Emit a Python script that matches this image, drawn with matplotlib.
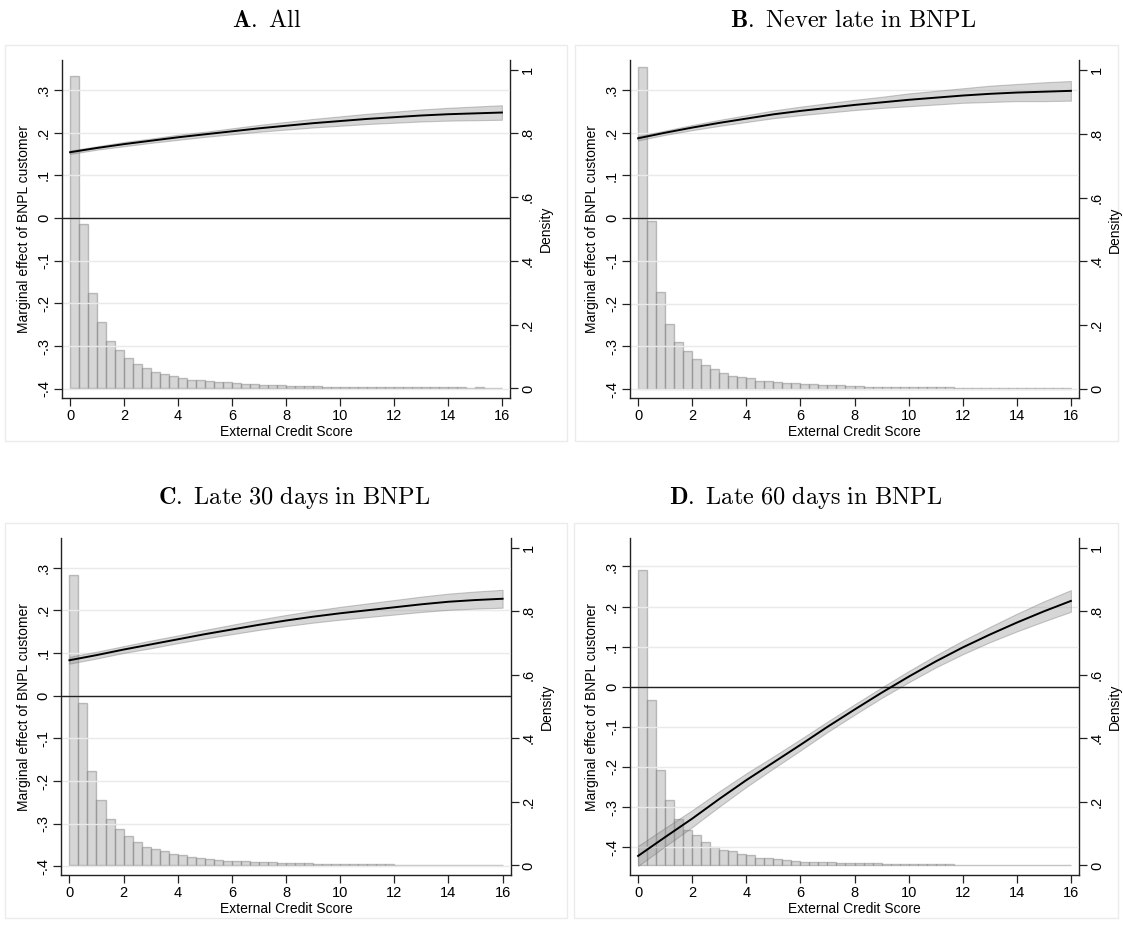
import numpy as np
import matplotlib
matplotlib.use("Agg")
import matplotlib.pyplot as plt
from matplotlib.patches import Rectangle

plt.rcParams['font.family'] = ['Liberation Sans', 'DejaVu Sans']
plt.rcParams['mathtext.fontset'] = 'cm'

# Histogram of the external credit score (density, bins of 1/3 from 0 to 16)
bin_edges = np.linspace(0, 16, 49)

hist_a = [0.980, 0.516, 0.300, 0.207, 0.150, 0.120, 0.095, 0.076, 0.063, 0.051,
          0.045, 0.038, 0.034, 0.028, 0.026, 0.022, 0.020, 0.019, 0.016, 0.014,
          0.013, 0.012, 0.011, 0.010, 0.009, 0.008, 0.008, 0.007, 0.006, 0.006,
          0.005, 0.005, 0.005, 0.004, 0.004, 0.004, 0.004, 0.003, 0.003, 0.003,
          0.003, 0.003, 0.003, 0.003, 0.002, 0.003, 0.002, 0.002]
hist_b = [1.010, 0.525, 0.302, 0.204, 0.147, 0.117, 0.093, 0.073, 0.061, 0.049,
          0.041, 0.036, 0.033, 0.025, 0.025, 0.020, 0.017, 0.019, 0.015, 0.014,
          0.012, 0.011, 0.011, 0.008, 0.008, 0.007, 0.007, 0.006, 0.005, 0.005,
          0.005, 0.004, 0.004, 0.004, 0.004, 0.003, 0.003, 0.003, 0.003, 0.003,
          0.003, 0.003, 0.002, 0.002, 0.002, 0.002, 0.002, 0.002]
hist_c = [0.914, 0.510, 0.297, 0.207, 0.145, 0.116, 0.094, 0.073, 0.059, 0.051,
          0.045, 0.036, 0.032, 0.027, 0.023, 0.021, 0.018, 0.015, 0.014, 0.013,
          0.012, 0.011, 0.010, 0.009, 0.008, 0.008, 0.007, 0.006, 0.006, 0.005,
          0.005, 0.005, 0.005, 0.004, 0.004, 0.004, 0.003, 0.003, 0.003, 0.003,
          0.003, 0.003, 0.003, 0.002, 0.002, 0.002, 0.003, 0.002]
hist_d = [0.930, 0.519, 0.300, 0.205, 0.145, 0.113, 0.095, 0.074, 0.059, 0.049,
          0.045, 0.036, 0.032, 0.025, 0.022, 0.020, 0.016, 0.015, 0.011, 0.012,
          0.011, 0.010, 0.009, 0.009, 0.008, 0.007, 0.007, 0.006, 0.005, 0.005,
          0.005, 0.005, 0.004, 0.004, 0.004, 0.003, 0.003, 0.003, 0.003, 0.003,
          0.003, 0.003, 0.002, 0.002, 0.002, 0.002, 0.002, 0.002]

# Marginal effect of BNPL customer and half-width of the 95% CI
score = np.arange(0, 17)

effect_a = [0.154, 0.164, 0.173, 0.181, 0.189, 0.196, 0.203, 0.210, 0.216,
            0.222, 0.227, 0.232, 0.236, 0.240, 0.243, 0.245, 0.247]
ci_a = [0.004, 0.004, 0.005, 0.005, 0.006, 0.006, 0.007, 0.008, 0.009,
        0.010, 0.011, 0.012, 0.013, 0.014, 0.015, 0.016, 0.017]

effect_b = [0.187, 0.200, 0.212, 0.223, 0.233, 0.243, 0.251, 0.258, 0.265,
            0.271, 0.277, 0.282, 0.287, 0.291, 0.294, 0.296, 0.298]
ci_b = [0.005, 0.005, 0.006, 0.007, 0.008, 0.009, 0.010, 0.011, 0.012,
        0.013, 0.015, 0.016, 0.017, 0.019, 0.020, 0.022, 0.023]

effect_c = [0.083, 0.095, 0.108, 0.120, 0.132, 0.144, 0.155, 0.166, 0.176,
            0.185, 0.193, 0.200, 0.207, 0.214, 0.220, 0.224, 0.227]
ci_c = [0.008, 0.008, 0.008, 0.009, 0.009, 0.010, 0.011, 0.012, 0.013,
        0.014, 0.015, 0.016, 0.017, 0.018, 0.019, 0.020, 0.021]

effect_d = [-0.422, -0.375, -0.329, -0.280, -0.233, -0.189, -0.145, -0.100, -0.057,
            -0.015, 0.025, 0.063, 0.098, 0.130, 0.160, 0.188, 0.214]
ci_d = [0.025, 0.023, 0.021, 0.019, 0.017, 0.015, 0.014, 0.013, 0.013,
        0.013, 0.014, 0.015, 0.017, 0.019, 0.022, 0.025, 0.027]

panel_letters = ['A.', 'B.', 'C.', 'D.']
panel_names = ['All', 'Never late in BNPL', 'Late 30 days in BNPL', 'Late 60 days in BNPL']

W, H = 1123, 930
fig = plt.figure(figsize=(W / 100, H / 100), dpi=100)
fig.patch.set_facecolor('white')


def px_box(x0, y0, x1, y1):
    # pixel box (top-left origin) -> figure fraction [left, bottom, width, height]
    return [x0 / W, 1 - y1 / H, (x1 - x0) / W, (y1 - y0) / H]


def fmt_tick(v):
    # Stata style labels: .3, -.1, 0, 1
    s = f"{v:.1f}".rstrip('0').rstrip('.')
    s = s.replace('0.', '.')
    return '0' if s in ('-0', '') else s


panels = [
    dict(box=(5, 45, 567, 441), ax=(62, 60, 510, 398), ylim=(-0.4216, 0.370),
         title=(267, 27), hist=hist_a, eff=effect_a, ci=ci_a),
    dict(box=(575, 45, 1118, 441), ax=(630, 60.5, 1079, 398.3), ylim=(-0.4215, 0.369),
         title=(853, 27), hist=hist_b, eff=effect_b, ci=ci_b),
    dict(box=(5, 523, 567, 918), ax=(61.3, 538.3, 510.7, 875), ylim=(-0.420, 0.3686),
         title=(294, 504), hist=hist_c, eff=effect_c, ci=ci_c),
    dict(box=(574, 523, 1118, 918), ax=(630, 538, 1079, 875), ylim=(-0.4696, 0.371),
         title=(806, 504), hist=hist_d, eff=effect_d, ci=ci_d),
]

for i, p in enumerate(panels):
    # light frame around each graph
    bx = px_box(*p['box'])
    fig.add_artist(Rectangle((bx[0], bx[1]), bx[2], bx[3], transform=fig.transFigure,
                             fill=False, edgecolor='#ebebeb', linewidth=1.0, zorder=0))

    tx, ty = p['title']
    fig.text(tx / W, 1 - ty / H,
             r'$\mathbf{' + panel_letters[i] + r'}\ \mathrm{'
             + panel_names[i].replace(' ', r'\ ') + r'}$',
             ha='center', va='baseline', fontsize=17.5)

    ax = fig.add_axes(px_box(*p['ax']))
    axd = ax.twinx()
    ax.set_zorder(axd.get_zorder() + 1)
    ax.patch.set_visible(False)

    # density histogram on the right axis
    widths = np.diff(bin_edges)
    axd.bar(bin_edges[:-1], p['hist'], width=widths, align='edge',
            color='#a6a6a6', alpha=0.45, edgecolor='#7a7a7a', linewidth=1.0)
    axd.set_ylim(-0.03, 1.03)
    axd.set_yticks(np.arange(0, 1.01, 0.2))
    axd.set_yticklabels([fmt_tick(v) for v in np.arange(0, 1.01, 0.2)],
                        rotation=90, va='center')
    axd.set_ylabel('Density', fontsize=10, labelpad=3)

    # marginal effect with confidence band
    eff = np.array(p['eff'])
    ci = np.array(p['ci'])
    ax.fill_between(score, eff - ci, eff + ci, facecolor='#8c8c8c', alpha=0.35,
                    edgecolor='#6a6a6a', linewidth=0.8, zorder=2)
    ax.plot(score, eff, color='black', linewidth=1.4, zorder=3)
    ax.axhline(0, color='#222222', linewidth=1.0, zorder=2.5)

    yt = np.round(np.arange(-0.4, 0.31, 0.1), 1)
    ax.set_yticks(yt)
    ax.set_yticklabels([fmt_tick(v) for v in yt], rotation=90, va='center')
    ax.set_ylim(*p['ylim'])
    ax.set_xlim(-0.3, 16.3)
    ax.set_xticks(np.arange(0, 17, 2))
    ax.grid(axis='y', color='#eaeaea', linewidth=1.0, zorder=0)
    ax.set_axisbelow(True)
    ax.set_xlabel('External Credit Score', fontsize=10, labelpad=1)
    ax.set_ylabel('Marginal effect of BNPL customer', fontsize=10, labelpad=4)

    for a in (ax, axd):
        a.spines['top'].set_visible(False)
        a.tick_params(length=6, width=0.9, labelsize=10.5, pad=2, color='#222222')
        for s in a.spines.values():
            s.set_linewidth(1.0)
            s.set_color('#222222')
    ax.spines['right'].set_visible(False)
    axd.spines['left'].set_visible(False)
    axd.spines['bottom'].set_visible(False)

fig.savefig('out.png', dpi=100, facecolor='white')
